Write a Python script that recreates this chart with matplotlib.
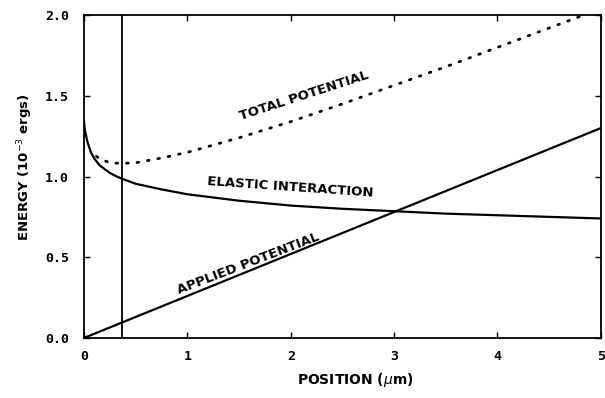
import numpy as np
from matplotlib import pyplot as plt

# elastic interaction energy (units of 1e-3 ergs)
position = [0.0, 0.005, 0.01, 0.02, 0.03, 0.05, 0.07, 0.1, 0.15, 0.2, 0.25, 0.3,
            0.37, 0.5, 0.75, 1.0, 1.5, 2.0, 2.5, 3.0, 3.5, 4.0, 4.5, 5.0]
elastic = [1.34, 1.30, 1.28, 1.25, 1.22, 1.18, 1.145, 1.11, 1.07, 1.045, 1.022, 1.005,
           0.985, 0.955, 0.92, 0.89, 0.85, 0.82, 0.80, 0.785, 0.77, 0.76, 0.75, 0.74]

# applied potential is a straight line
applied_x = [0.0, 5.0]
applied_y = [0.0, 1.30]

# total potential shown from here on
total_start = 0.12
wall_position = 0.37

x_ticks = [0, 1, 2, 3, 4, 5]
y_ticks = [0.0, 0.5, 1.0, 1.5, 2.0]


def main():
    fig = plt.figure(figsize=(6.05, 3.98), dpi=100)
    ax = fig.add_axes([0.139, 0.151, 0.854, 0.811])

    x = np.array(position)
    el = np.array(elastic)
    ap = np.interp(x, applied_x, applied_y)
    total = el + ap
    mask = x >= total_start
    xt = np.concatenate(([total_start], x[mask]))
    tt = np.concatenate(([np.interp(total_start, x, el) + np.interp(total_start, applied_x, applied_y)], total[mask]))

    ax.plot(x, el, color="black", lw=1.6)
    ax.plot(applied_x, applied_y, color="black", lw=1.6)
    ax.plot(xt, tt, color="black", lw=2.0, ls=(0, (0.6, 3.2)), dash_capstyle="round")
    ax.axvline(wall_position, color="black", lw=1.3)

    ax.set_xlim(0, 5)
    ax.set_ylim(0, 2.0)
    ax.set_xticks(x_ticks)
    ax.set_yticks(y_ticks)
    ax.set_xticklabels([str(t) for t in x_ticks])
    ax.set_yticklabels([f"{t:.1f}" for t in y_ticks])
    ax.tick_params(direction="in", top=True, right=True, length=4, width=1)
    ax.tick_params(axis="x", pad=9)
    ax.tick_params(axis="y", pad=11)
    for lab in ax.get_xticklabels() + ax.get_yticklabels():
        lab.set_fontfamily("DejaVu Sans Mono")
        lab.set_fontweight("bold")
        lab.set_fontsize(9.5)
    for sp in ax.spines.values():
        sp.set_linewidth(1.3)

    fs = 9.5
    ax.text(2.13, 1.50, "TOTAL POTENTIAL", rotation=18, ha="center", va="center",
            fontsize=fs, fontweight="bold")
    ax.text(2.0, 0.935, "ELASTIC INTERACTION", rotation=-4, ha="center", va="center",
            fontsize=fs, fontweight="bold")
    ax.text(1.59, 0.46, "APPLIED POTENTIAL", rotation=21, ha="center", va="center",
            fontsize=fs, fontweight="bold")

    fig.text(0.587, 0.045, r"POSITION ($\mu$m)", ha="center", va="center",
             fontsize=10, fontweight="bold")
    fig.text(0.041, 0.58, r"ENERGY (10$^{-3}$ ergs)", ha="center", va="center",
             rotation=90, fontsize=9.5, fontweight="bold")

    fig.savefig("out.png", dpi=100)
    plt.close(fig)


if __name__ == "__main__":
    main()
